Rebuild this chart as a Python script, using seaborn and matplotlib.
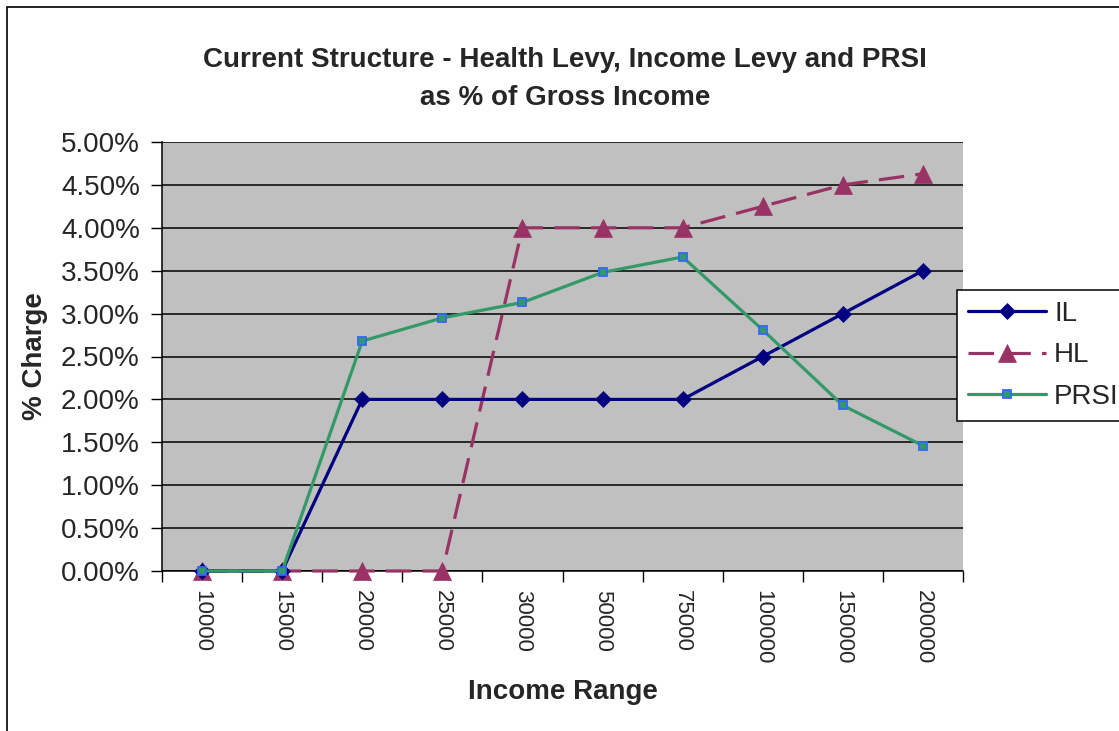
import numpy as np
import pandas as pd
import seaborn as sns
import matplotlib.pyplot as plt
from matplotlib.patches import Rectangle
from matplotlib.ticker import FixedLocator, FuncFormatter

# === Data (% of gross income) ===
income = ["10000", "15000", "20000", "25000", "30000",
          "50000", "75000", "100000", "150000", "200000"]
il = [0, 0, 2, 2, 2, 2, 2, 2.5, 3, 3.5]
hl = [0, 0, 0, 0, 4, 4, 4, 4.25, 4.5, 4.63]
prsi = [0, 0, 2.68, 2.95, 3.13, 3.48, 3.66, 2.81, 1.93, 1.46]
y_ticks = [0, 0.5, 1, 1.5, 2, 2.5, 3, 3.5, 4, 4.5, 5]

df = pd.DataFrame({"Income": income, "IL": il, "HL": hl, "PRSI": prsi})

sns.set_style("white")
plt.rcParams["font.family"] = ["Liberation Sans", "DejaVu Sans"]

fig = plt.figure(figsize=(11.19, 7.31), dpi=100)
ax = fig.add_axes([162 / 1119, 1 - 571 / 731, 801 / 1119, 429 / 731])
ax.set_facecolor("#C0C0C0")

# === Series ===
sns.lineplot(data=df, x="Income", y="HL", ax=ax, sort=False, color="#993366",
             linewidth=2.3, linestyle=(0, (8, 3.5)), marker="^", markersize=13,
             markeredgecolor="#993366", markeredgewidth=0.5,
             clip_on=False, zorder=3, label="HL")
sns.lineplot(data=df, x="Income", y="IL", ax=ax, sort=False, color="#000080",
             linewidth=2.3, marker="D", markersize=8.5,
             markeredgecolor="#000080", markeredgewidth=0.5,
             clip_on=False, zorder=4, label="IL")
sns.lineplot(data=df, x="Income", y="PRSI", ax=ax, sort=False, color="#339966",
             linewidth=2.3, marker="s", markersize=5.5,
             markeredgecolor="#3366FF", markeredgewidth=1.3,
             clip_on=False, zorder=5, label="PRSI")

# === Axes ===
n = len(income)
ax.set_xlim(-0.5, n - 0.5)
ax.set_ylim(0, 5)
ax.set_yticks(y_ticks)
ax.yaxis.set_major_formatter(FuncFormatter(lambda v, p: f"{v:.2f}%"))
ax.grid(axis="y", color="black", linewidth=1.1)
ax.grid(axis="x", visible=False)
ax.set_axisbelow(True)

ax.set_xticks(range(n))
ax.set_xticklabels(income, rotation=270)
ax.xaxis.set_minor_locator(FixedLocator(np.arange(-0.5, n, 1)))
ax.tick_params(axis="x", which="major", length=0, pad=14, labelsize=16)
ax.tick_params(axis="x", which="minor", length=8, width=1, color="black",
               direction="out", bottom=True)
ax.tick_params(axis="y", length=8, width=1, color="black", direction="out",
               left=True, pad=8, labelsize=20)

for side in ["top", "right"]:
    ax.spines[side].set_visible(False)
for side in ["left", "bottom"]:
    ax.spines[side].set_color("black")
    ax.spines[side].set_linewidth(1.1)

ax.set_xlabel("Income Range", fontsize=20, fontweight="bold", labelpad=10.5)
ax.set_ylabel("% Charge", fontsize=20, fontweight="bold", labelpad=9.5)

fig.text(565 / 1119, 1 - 79 / 731,
         "Current Structure - Health Levy, Income Levy and PRSI\nas % of Gross Income",
         ha="center", va="center", fontsize=20, fontweight="bold", linespacing=1.6)

# === Legend ===
handles, labels = ax.get_legend_handles_labels()
order = [labels.index(k) for k in ["IL", "HL", "PRSI"]]
leg = ax.legend([handles[i] for i in order], [labels[i] for i in order],
                loc="upper left", bbox_to_anchor=(957 / 1119, 1 - 290 / 731),
                bbox_transform=fig.transFigure, fontsize=20, frameon=True,
                fancybox=False, framealpha=1, edgecolor="black",
                handlelength=2.8, handletextpad=0.3, labelspacing=0.55,
                borderpad=0.4, borderaxespad=0)
leg.get_frame().set_linewidth(1.1)

# Outer chart border
fig.patches.append(Rectangle((7 / 1119, -0.1), 1.2, 1.1 - 7 / 731,
                             transform=fig.transFigure, fill=False,
                             edgecolor="black", linewidth=1.2))

fig.savefig("out.png", dpi=100)
